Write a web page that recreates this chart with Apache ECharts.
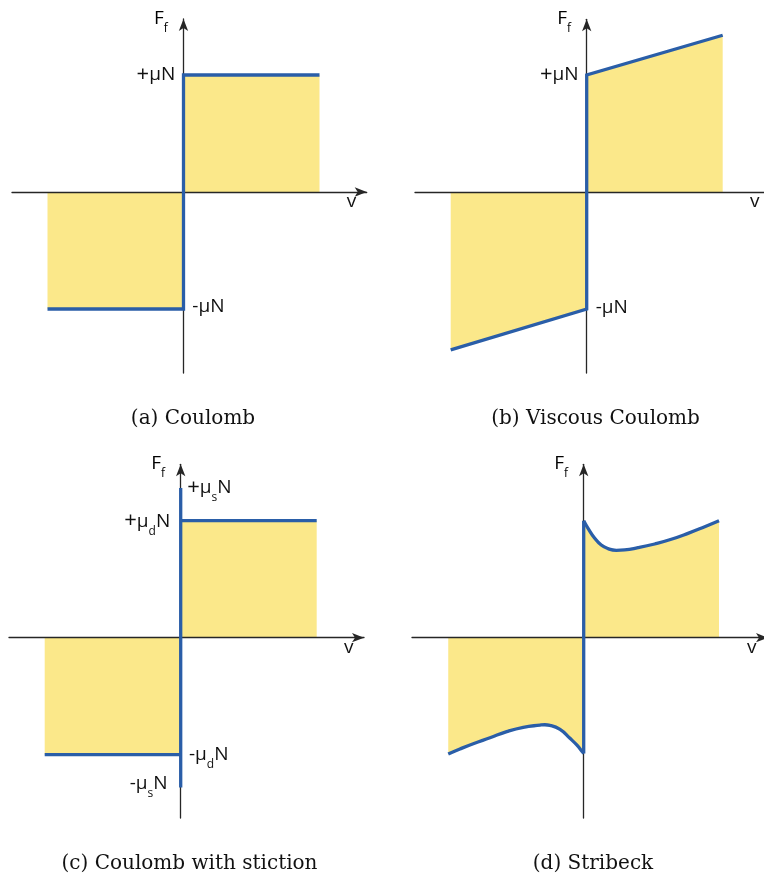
<!DOCTYPE html>
<html><head><meta charset="utf-8">
<script src="https://cdn.jsdelivr.net/npm/echarts@6/dist/echarts.min.js"></script>
<style>html,body{margin:0;padding:0;background:#fff}#c{width:764px;height:878px}</style>
</head><body><div id="c"></div>
<script>
// ---------- DATA (v normalised so that the plotted range ends at |v| = 1, F in units of muN) ----------
// (a) Coulomb
const coulombLine    = [[-1, -1], [0, -1], [0, 1], [1, 1]];
const coulombFillPos = [[0, 1], [1, 1]];
const coulombFillNeg = [[-1, -1], [0, -1]];
// (b) Viscous Coulomb
const viscousLine    = [[-1, -1.35], [0, -1], [0, 1], [1, 1.34]];
const viscousFillPos = [[0, 1], [1, 1.34]];
const viscousFillNeg = [[-1, -1.35], [0, -1]];
// (c) Coulomb with stiction (muD = dynamic, muS = static)
const stictionPos  = [[0, 1], [1, 1]];
const stictionNeg  = [[-1, -1], [0, -1]];
const stictionJump = [[0, -1.28], [0, 1.28]];
// (d) Stribeck
const stribeckPos = [[0, 1.0], [0.032, 0.935], [0.081, 0.85], [0.129, 0.792], [0.179, 0.761], [0.24, 0.747],
  [0.301, 0.75], [0.399, 0.769], [0.522, 0.801], [0.644, 0.841], [0.767, 0.892], [0.89, 0.949], [0.995, 1.0]];
const stribeckNeg = [[-0.996, -0.994], [-0.91, -0.951], [-0.812, -0.906], [-0.689, -0.855], [-0.566, -0.803],
  [-0.444, -0.766], [-0.321, -0.747], [-0.285, -0.744], [-0.248, -0.749], [-0.174, -0.784], [-0.101, -0.86],
  [-0.051, -0.917], [-0.007, -0.979], [0, -0.99]];
const stribeckJump = [[0, -0.99], [0, 1.0]];
// labels
const captions = ['(a) Coulomb', '(b) Viscous Coulomb', '(c) Coulomb with stiction', '(d) Stribeck'];
const coulombLabels  = [{ at: [0, 1], text: '{m|+μN}' }, { at: [0, -1], text: '{m|-μN}' }];
const stictionLabels = [
  { at: [0, 1.28], text: '{m|+μ}{s|s}{m|N}' }, { at: [0, 1], text: '{m|+μ}{s|d}{m|N}' },
  { at: [0, -1], text: '{m|-μ}{s|d}{m|N}' }, { at: [0, -1.28], text: '{m|-μ}{s|s}{m|N}' }];

// ---------- STYLE / LAYOUT ----------
const BLUE = '#2A5EA8', YELLOW = '#FBE88A', AXIS = '#262626', TXT = '#111111';
const SX = 136, SY = 117; // px per unit
const panels = [
  { ox: 183.5, oy: 192,   x0: 12,  x1: 366.7, y0: 19,    y1: 373 },
  { ox: 586.7, oy: 192,   x0: 415, x1: 776,   y0: 19.3,  y1: 373 },
  { ox: 180.7, oy: 637.7, x0: 9,   x1: 364,   y0: 464.3, y1: 818 },
  { ox: 583.7, oy: 637.7, x0: 412, x1: 768,   y0: 464.3, y1: 818 }
];
const RICH = {
  m: { fontFamily: 'Open Sans', fontSize: 19, lineHeight: 19, color: TXT, opacity: 1 },
  p: { fontFamily: 'Open Sans', fontSize: 22, lineHeight: 19, color: TXT, opacity: 1 },
  s: { fontFamily: 'Open Sans', fontSize: 12, lineHeight: 12, padding: [20, 0, 0, 0], color: TXT, opacity: 1 }
};
const captionY = [418.5, 418.5, 863.5, 863.5];
const captionX = [193, 595.5, 189.5, 593];

const grids = [], xAxes = [], yAxes = [], series = [], graphics = [];
panels.forEach((p, i) => {
  grids.push({ left: p.x0, top: p.y0, width: p.x1 - p.x0, height: p.y1 - p.y0, outerBoundsMode: 'none', containLabel: false });
  const axisCommon = {
    gridIndex: i, type: 'value', z: 3,
    axisLine: { show: true, onZero: true, lineStyle: { color: AXIS, width: 1.3 }, symbol: ['none', 'arrow'], symbolSize: [7, 12] },
    axisTick: { show: false }, axisLabel: { show: false }, splitLine: { show: false }
  };
  xAxes.push(Object.assign({}, axisCommon, { min: (p.x0 - p.ox) / SX, max: (p.x1 - p.ox) / SX }));
  yAxes.push(Object.assign({}, axisCommon, { min: (p.oy - p.y1) / SY, max: (p.oy - p.y0) / SY }));
  graphics.push({ type: 'text', x: p.ox - 29.5, y: p.y0 - 0.5, z: 10,
    style: { text: '{m|F}{s|f}', rich: RICH, align: 'left', verticalAlign: 'middle' } });
  graphics.push({ type: 'text', x: p.ox + 168, y: p.oy + 10, z: 10,
    style: { text: 'v', fontFamily: 'Open Sans', fontSize: 19, fill: TXT, align: 'center', verticalAlign: 'middle' } });
  graphics.push({ type: 'text', x: captionX[i], y: captionY[i], z: 10,
    style: { text: captions[i], fontFamily: 'DejaVu Serif', fontSize: 20, fill: TXT, align: 'center', verticalAlign: 'middle' } });
});

function fill(i, data, smooth) {
  return { type: 'line', xAxisIndex: i, yAxisIndex: i, data, symbol: 'none', smooth: smooth || false,
    lineStyle: { width: 0, opacity: 0 }, areaStyle: { color: YELLOW, opacity: 1 }, z: 2, silent: true, animation: false };
}
function line(i, data, smooth) {
  return { type: 'line', xAxisIndex: i, yAxisIndex: i, data, symbol: 'none', smooth: smooth || false,
    lineStyle: { color: BLUE, width: 3.3, cap: 'butt', join: 'miter' }, z: 5, silent: true, animation: false };
}
function labels(i, items) {
  return { type: 'scatter', xAxisIndex: i, yAxisIndex: i, symbolSize: 0, z: 6, silent: true, animation: false,
    itemStyle: { opacity: 1 }, emphasis: { disabled: true },
    label: { show: true, color: TXT, opacity: 1, fontFamily: 'Open Sans', fontSize: 19, rich: RICH }, data: items };
}
// use a slightly larger "+" glyph as in the reference
const fmt = t => t.replace('{m|+', '{p|+}{m|');

series.push(fill(0, coulombFillPos), fill(0, coulombFillNeg), line(0, coulombLine));
series.push(labels(0, [
  { value: coulombLabels[0].at, label: { position: 'left', distance: 8.3, offset: [0, 0], formatter: fmt(coulombLabels[0].text) } },
  { value: coulombLabels[1].at, label: { position: 'right', distance: 8.8, offset: [0, -2.3], formatter: coulombLabels[1].text } }
]));
series.push(fill(1, viscousFillPos), fill(1, viscousFillNeg), line(1, viscousLine));
series.push(labels(1, [
  { value: coulombLabels[0].at, label: { position: 'left', distance: 8.1, offset: [0, 0], formatter: fmt(coulombLabels[0].text) } },
  { value: coulombLabels[1].at, label: { position: 'right', distance: 9, offset: [0, -1.6], formatter: coulombLabels[1].text } }
]));
series.push(fill(2, stictionPos), fill(2, stictionNeg), line(2, stictionPos), line(2, stictionNeg), line(2, stictionJump));
series.push(labels(2, [
  { value: stictionLabels[0].at, label: { position: 'right', distance: 6.5, offset: [0, 0], formatter: fmt(stictionLabels[0].text) } },
  { value: stictionLabels[1].at, label: { position: 'left', distance: 10.5, offset: [0, 0.5], formatter: fmt(stictionLabels[1].text) } },
  { value: stictionLabels[2].at, label: { position: 'right', distance: 8.3, offset: [0, -0.6], formatter: stictionLabels[2].text } },
  { value: stictionLabels[3].at, label: { position: 'left', distance: 13.1, offset: [0, -3.4], formatter: stictionLabels[3].text } }
]));
series.push(fill(3, stribeckPos, 0.5), fill(3, stribeckNeg, 0.5), line(3, stribeckPos, 0.5), line(3, stribeckNeg, 0.5), line(3, stribeckJump));

const chart = echarts.init(document.getElementById('c'), null, { renderer: 'canvas' });
chart.setOption({
  backgroundColor: '#ffffff', animation: false,
  grid: grids, xAxis: xAxes, yAxis: yAxes, series, graphic: graphics
});
</script></body></html>
